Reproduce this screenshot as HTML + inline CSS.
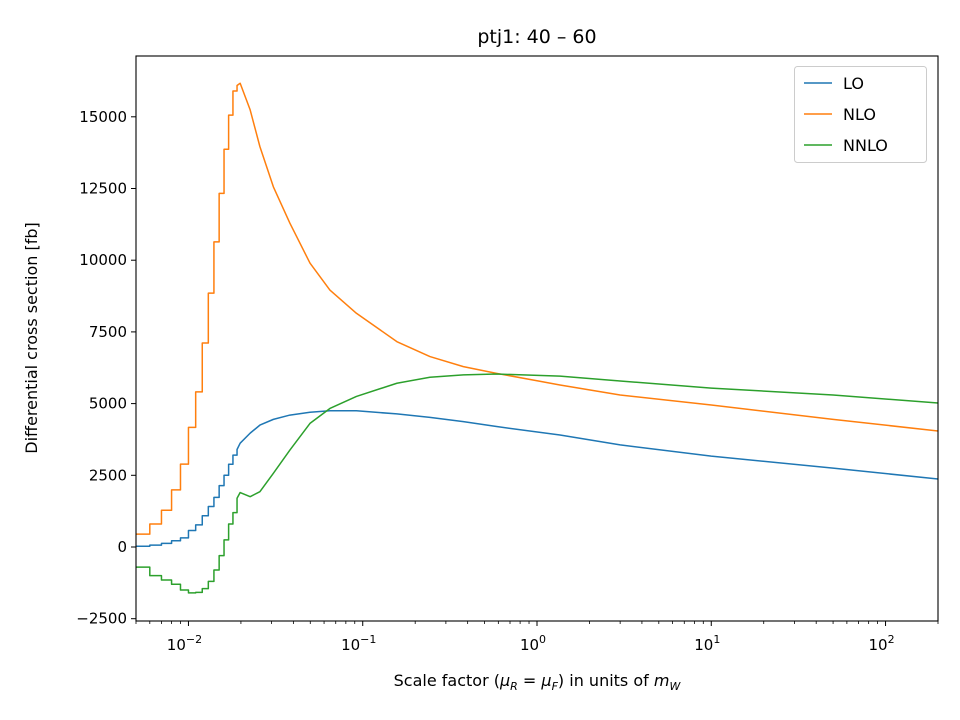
<!DOCTYPE html>
<html><head><meta charset="utf-8"><style>
html,body{margin:0;padding:0;background:#fff;}
svg{display:block;font-family:"DejaVu Sans","Liberation Sans",sans-serif;}
</style></head><body>
<svg id="chart" width="960" height="720" viewBox="0 0 960 720">
<text x="537" y="43" font-size="19" text-anchor="middle">ptj1: 40 – 60</text>
<g id="plot"></g>
<g id="axes"></g>
<text x="537" y="686" font-size="16" text-anchor="middle">Scale factor (<tspan font-style="italic">μ</tspan><tspan font-size="11" dy="4" font-style="italic">R</tspan><tspan dy="-4"> = </tspan><tspan font-style="italic">μ</tspan><tspan font-size="11" dy="4" font-style="italic">F</tspan><tspan dy="-4">) in units of </tspan><tspan font-style="italic">m</tspan><tspan font-size="11" dy="4" font-style="italic">W</tspan></text>
<text transform="translate(37,338) rotate(-90)" font-size="16" text-anchor="middle">Differential cross section [fb]</text>
<g>
<rect x="794.5" y="66.5" width="132" height="96" rx="3" fill="#fff" fill-opacity="0.8" stroke="#ccc"/>
<g><line x1="804" y1="83" x2="832" y2="83" stroke="#1f77b4" stroke-width="1.5"/><text x="843" y="89" font-size="16">LO</text></g>
<g><line x1="804" y1="114" x2="832" y2="114" stroke="#ff7f0e" stroke-width="1.5"/><text x="843" y="120" font-size="16">NLO</text></g>
<g><line x1="804" y1="145" x2="832" y2="145" stroke="#2ca02c" stroke-width="1.5"/><text x="843" y="151" font-size="16">NNLO</text></g>
</g>
</svg>
<script>
const xs = [0.005,0.006,0.007,0.008,0.009,0.010,0.011,0.012,0.013,0.014,0.015,0.016,0.017,0.018,0.019,0.0198,0.0226,0.0257,0.0307,0.0382,0.0498,0.0648,0.092,0.157,0.243,0.378,0.586,1.355,3,10,50,200];
const lo = [25,64,128,218,320,577,770,1090,1410,1730,2140,2500,2885,3205,3400,3620,3970,4250,4450,4600,4700,4750,4750,4640,4520,4370,4200,3905,3560,3170,2750,2370];
const nlo = [450,800,1280,1990,2890,4170,5410,7115,8850,10640,12330,13870,15060,15900,16090,16170,15240,13960,12560,11290,9900,8960,8150,7160,6640,6290,6055,5650,5300,4950,4450,4045];
const nnlo = [-700,-1000,-1150,-1300,-1500,-1600,-1580,-1450,-1200,-800,-300,250,800,1200,1700,1900,1755,1930,2570,3380,4310,4830,5250,5710,5920,6000,6030,5960,5790,5540,5300,5020];
const yTicks = [-2500,0,2500,5000,7500,10000,12500,15000];
const xTickExp = [-2,-1,0,1,2];
const L=136,R=938,T=56,B=621, XMIN=0.005, XMAX=200;
function X(v){return L+(Math.log10(v)-Math.log10(XMIN))/(Math.log10(XMAX)-Math.log10(XMIN))*(R-L);}
function Y(v){return 547-v*(71.7/2500);}
const NS="http://www.w3.org/2000/svg";
const plot=document.getElementById('plot'), axes=document.getElementById('axes');
function mk(tag,attrs,parent){const e=document.createElementNS(NS,tag);for(const k in attrs)e.setAttribute(k,attrs[k]);parent.appendChild(e);return e;}
const defs=mk('defs',{},plot);
const cp=mk('clipPath',{id:'clip'},defs);mk('rect',{x:L,y:T,width:R-L,height:B-T},cp);
function path(arr){let d='';for(let i=0;i<xs.length;i++){const px=X(xs[i]),py=Y(arr[i]);
 if(i===0)d+='M'+px+' '+py;else if(xs[i]<=0.0195)d+='H'+px+'V'+py;else d+='L'+px+' '+py;}return d;}
const series=[[lo,'#1f77b4','series-lo'],[nlo,'#ff7f0e','series-nlo'],[nnlo,'#2ca02c','series-nnlo']];
series.forEach(s=>{const p=mk('path',{d:path(s[0]),fill:'none',stroke:s[1],'stroke-width':1.5,'stroke-linejoin':'round','clip-path':'url(#clip)'},plot);

});
const fr=mk('rect',{x:L,y:T,width:R-L,height:B-T,fill:'none',stroke:'#000','stroke-width':1.1},axes);


yTicks.forEach(v=>{const y=Y(v);mk('line',{x1:L-5,x2:L,y1:y,y2:y,stroke:'#000'},axes);
const t=mk('text',{x:L-9,y:y+5,'font-size':15,'text-anchor':'end'},axes);t.textContent=v<0?'\u2212'+Math.abs(v):String(v);

});
xTickExp.forEach(e=>{const x=X(Math.pow(10,e));mk('line',{x1:x,x2:x,y1:B,y2:B+5,stroke:'#000'},axes);
const t=mk('text',{x:x-4,y:B+29,'font-size':15,'text-anchor':'middle'},axes);t.textContent='10';
const s=mk('tspan',{dy:-7,'font-size':11},t);s.textContent=e<0?'\u2212'+Math.abs(e):String(e);

});
for(let e=-3;e<=2;e++)for(let m=2;m<=9;m++){const v=m*Math.pow(10,e);if(v<XMIN||v>XMAX)continue;const x=X(v);mk('line',{x1:x,x2:x,y1:B,y2:B+3,stroke:'#000','stroke-width':0.8},axes);}
</script>
</body></html>
